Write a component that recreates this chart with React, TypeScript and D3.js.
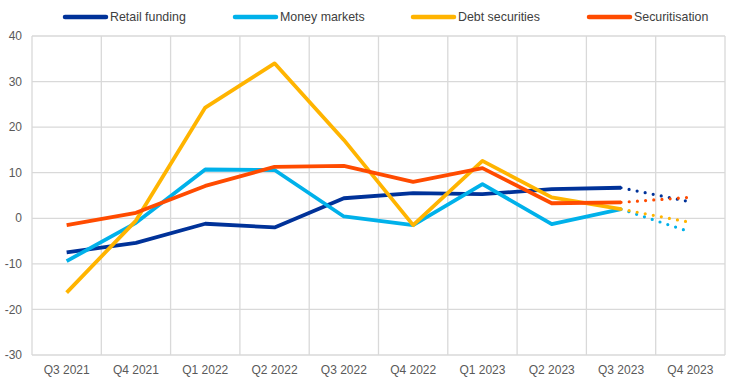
import { useEffect, useRef } from "react";
import * as d3 from "d3";

const quarters = [
  "Q3 2021", "Q4 2021", "Q1 2022", "Q2 2022", "Q3 2022",
  "Q4 2022", "Q1 2023", "Q2 2023", "Q3 2023", "Q4 2023",
];
const retailFunding = [-7.5, -5.4, -1.2, -2.0, 4.4, 5.5, 5.3, 6.4, 6.7, 3.6];
const moneyMarkets = [-9.4, -1.0, 10.7, 10.6, 0.4, -1.5, 7.5, -1.3, 2.0, -3.0];
const debtSecurities = [-16.3, -0.5, 24.3, 34.0, 17.2, -1.5, 12.6, 4.6, 2.0, -0.9];
const securitisation = [-1.5, 1.2, 7.1, 11.3, 11.5, 8.0, 11.0, 3.3, 3.5, 4.6];
const yTicks = [40, 30, 20, 10, 0, -10, -20, -30];

const series = [
  { name: "Retail funding", values: retailFunding, color: "#003299" },
  { name: "Money markets", values: moneyMarkets, color: "#00b1ea" },
  { name: "Debt securities", values: debtSecurities, color: "#ffb400" },
  { name: "Securitisation", values: securitisation, color: "#ff4b00" },
];
const legendX = [65, 235, 413, 589];

export default function App() {
  const svgRef = useRef<SVGSVGElement>(null);
  const width = 744;
  const height = 384;
  const margin = { top: 36, right: 19, bottom: 29, left: 32 };

  useEffect(() => {
    if (!svgRef.current) return;
    const svg = d3.select(svgRef.current);
    svg.selectAll("*").remove();
    const font = "Liberation Sans, Arial, sans-serif";

    const x = d3
      .scaleBand()
      .domain(quarters)
      .range([margin.left, width - margin.right]);
    const y = d3
      .scaleLinear()
      .domain([-30, 40])
      .range([height - margin.bottom, margin.top]);
    const cx = (q: string) => (x(q) ?? 0) + x.bandwidth() / 2;

    // ── Grid ──────────────────────────────────────────────────────────
    const grid = svg.append("g").attr("stroke", "#d9d9d9").attr("stroke-width", 1.3);
    grid
      .selectAll(".hg")
      .data(yTicks)
      .enter()
      .append("line")
      .attr("x1", margin.left)
      .attr("x2", width - margin.right)
      .attr("y1", (d) => y(d))
      .attr("y2", (d) => y(d));
    const vx = quarters.map((q) => x(q) ?? 0).concat([width - margin.right]);
    grid
      .selectAll(".vg")
      .data(vx)
      .enter()
      .append("line")
      .attr("x1", (d) => d)
      .attr("x2", (d) => d)
      .attr("y1", margin.top)
      .attr("y2", height - margin.bottom);

    // ── Axis labels ───────────────────────────────────────────────────
    svg
      .append("g")
      .selectAll("text")
      .data(yTicks)
      .enter()
      .append("text")
      .attr("x", 22)
      .attr("y", (d) => y(d))
      .attr("dy", "0.35em")
      .attr("text-anchor", "end")
      .attr("font-family", font)
      .attr("font-size", "12px")
      .attr("fill", "#595959")
      .text((d) => d);

    svg
      .append("g")
      .selectAll("text")
      .data(quarters)
      .enter()
      .append("text")
      .attr("x", (d) => cx(d))
      .attr("y", height - 10)
      .attr("text-anchor", "middle")
      .attr("font-family", font)
      .attr("font-size", "12px")
      .attr("fill", "#595959")
      .text((d) => d);

    // ── Lines ─────────────────────────────────────────────────────────
    const line = d3
      .line<number>()
      .x((_, i) => cx(quarters[i]))
      .y((d) => y(d));
    const n = quarters.length;

    series.forEach((s) => {
      svg
        .append("path")
        .attr("d", line(s.values.slice(0, n - 1)))
        .attr("fill", "none")
        .attr("stroke", s.color)
        .attr("stroke-width", 3.8)
        .attr("stroke-linejoin", "round");
      const last = d3
        .line<number>()
        .x((_, i) => cx(quarters[n - 2 + i]))
        .y((d) => y(d));
      svg
        .append("path")
        .attr("d", last(s.values.slice(n - 2)))
        .attr("fill", "none")
        .attr("stroke", s.color)
        .attr("stroke-width", 3.2)
        .attr("stroke-linecap", "round")
        .attr("stroke-dasharray", "0 8.2");
    });

    // ── Legend ────────────────────────────────────────────────────────
    const legend = svg.append("g");
    series.forEach((s, i) => {
      legend
        .append("line")
        .attr("x1", legendX[i])
        .attr("x2", legendX[i] + 41)
        .attr("y1", 17)
        .attr("y2", 17)
        .attr("stroke", s.color)
        .attr("stroke-width", 4.5)
        .attr("stroke-linecap", "round");
      legend
        .append("text")
        .attr("x", legendX[i] + 45)
        .attr("y", 17)
        .attr("dy", "0.35em")
        .attr("font-family", font)
        .attr("font-size", "12.4px")
        .attr("fill", "#404040")
        .text(s.name);
    });
  }, []);

  return (
    <svg
      ref={svgRef}
      width={width}
      height={height}
      style={{ position: "absolute", left: 0, top: 0, background: "#fff" }}
    />
  );
}
